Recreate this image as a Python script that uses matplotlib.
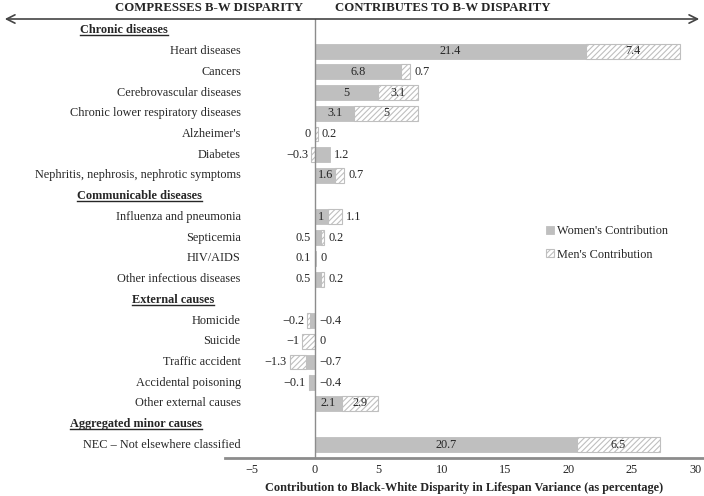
import matplotlib
matplotlib.use("Agg")
import matplotlib.pyplot as plt
from matplotlib.lines import Line2D
from matplotlib.patches import Patch, FancyArrowPatch

plt.rcParams['font.family'] = ['Liberation Serif', 'DejaVu Serif']
plt.rcParams['hatch.linewidth'] = 0.8

# --- data -------------------------------------------------------------
groups = ["Chronic diseases", "Communicable diseases",
          "External causes", "Aggregated minor causes"]
causes = [
    ["Heart diseases", "Cancers", "Cerebrovascular diseases",
     "Chronic lower respiratory diseases", "Alzheimer's", "Diabetes",
     "Nephritis, nephrosis, nephrotic symptoms"],
    ["Influenza and pneumonia", "Septicemia", "HIV/AIDS",
     "Other infectious diseases"],
    ["Homicide", "Suicide", "Traffic accident", "Accidental poisoning",
     "Other external causes"],
    ["NEC \u2013 Not elsewhere classified"],
]
women = [
    [21.4, 6.8, 5, 3.1, 0, 1.2, 1.6],
    [1, 0.5, 0.1, 0.5],
    [-0.4, 0, -0.7, -0.4, 2.1],
    [20.7],
]
men = [
    [7.4, 0.7, 3.1, 5, 0.2, -0.3, 0.7],
    [1.1, 0.2, 0, 0.2],
    [-0.2, -1, -1.3, -0.1, 2.9],
    [6.5],
]
xticks = [-5, 0, 5, 10, 15, 20, 25, 30]

# --- styling ----------------------------------------------------------
grey = '#bfbfbf'
txt = '#262626'
fs = 8.8


def fmt(v):
    return ('%g' % v).replace('-', '\u2212')


W, H = 704, 496
fig = plt.figure(figsize=(W / 100, H / 100), dpi=100)
ax = fig.add_axes([225 / W, 1 - 458 / H, 1 - 225 / W, (458 - 19) / H])

rows = []  # (kind, label, w, m)
for g, cs, ws, ms in zip(groups, causes, women, men):
    rows.append(('header', g, None, None))
    for c, w, m in zip(cs, ws, ms):
        rows.append(('cause', c, w, m))

ax.set_xlim(-7.1, 30.7)
ax.set_ylim(len(rows) - 1 + 0.63, -0.55)

header_left = {"Chronic diseases": 80, "Communicable diseases": 77,
               "External causes": 132, "Aggregated minor causes": 70}

bar_h = 0.72
header_texts = []
for i, (kind, label, w, m) in enumerate(rows):
    if kind == 'header':
        yfig = fig.transFigure.inverted().transform(
            ax.transData.transform((0, i)))[1]
        t = fig.text(header_left[label] / W, yfig, label, fontsize=fs,
                     fontweight='bold', color=txt, ha='left', va='center')
        header_texts.append(t)
        continue
    ax.text(-5.85, i, label, ha='right', va='center', fontsize=fs, color=txt)
    ax.barh(i, w, height=bar_h, color=grey, edgecolor=grey, lw=0.6)
    m_left = w if (w * m > 0) else 0
    ax.barh(i, m, left=m_left, height=bar_h, facecolor='white',
            edgecolor=grey, hatch='//////', lw=0.8)

    lo = min(0, w, m_left + m, m_left)
    hi = max(0, w, m_left + m, m_left)
    if w < 0 or m < 0:
        ax.annotate(fmt(m), (lo, i), xytext=(-2, 0), textcoords='offset points',
                    ha='right', va='center', fontsize=fs, color=txt)
        ax.annotate(fmt(w), (hi, i), xytext=(3, 0), textcoords='offset points',
                    ha='left', va='center', fontsize=fs, color=txt)
    elif w >= 1:
        ax.text(w / 2, i, fmt(w), ha='center', va='center', fontsize=fs,
                color=txt)
        if m >= 2:
            ax.text(w + m / 2, i, fmt(m), ha='center', va='center',
                    fontsize=fs, color=txt)
        else:
            ax.annotate(fmt(m), (hi, i), xytext=(3, 0),
                        textcoords='offset points', ha='left', va='center',
                        fontsize=fs, color=txt)
    else:
        ax.annotate(fmt(w), (lo, i), xytext=(-3, 0), textcoords='offset points',
                    ha='right', va='center', fontsize=fs, color=txt)
        ax.annotate(fmt(m), (hi, i), xytext=(3, 0), textcoords='offset points',
                    ha='left', va='center', fontsize=fs, color=txt)

ax.axvline(0, color='#8c8c8c', lw=1)
ax.set_xticks(xticks)
ax.set_xticklabels([fmt(v) for v in xticks])
ax.set_yticks([])
ax.tick_params(axis='x', length=0, pad=4, labelsize=fs, labelcolor=txt)
for s in ['top', 'right', 'left']:
    ax.spines[s].set_visible(False)
ax.spines['bottom'].set_color('#8c8c8c')
ax.spines['bottom'].set_linewidth(2)
ax.set_facecolor('none')
ax.set_xlabel('Contribution to Black-White Disparity in Lifespan Variance '
              '(as percentage)', fontsize=fs, fontweight='bold', color=txt,
              labelpad=5)

# legend
handles = [Patch(facecolor=grey, edgecolor=grey, lw=0.6),
           Patch(facecolor='white', edgecolor=grey, hatch='//////', lw=0.8)]
ax.legend(handles, ["Women's Contribution", "Men's Contribution"],
          loc='upper left', bbox_to_anchor=(546 / W, 1 - 225 / H),
          bbox_transform=fig.transFigure, frameon=False, fontsize=fs,
          handlelength=0.65, handleheight=0.65, handletextpad=0.25,
          labelspacing=0.95, borderpad=0, borderaxespad=0, labelcolor=txt)

# top arrow and direction labels
arrow_y = 1 - 19 / H
fig.add_artist(FancyArrowPatch(
    (2 / W, arrow_y), (702 / W, arrow_y), transform=fig.transFigure,
    arrowstyle='<->,head_length=6,head_width=3', color='#444444', lw=1.2,
    mutation_scale=1))
zero_x = fig.transFigure.inverted().transform(ax.transData.transform((0, 0)))[0]
fig.text(zero_x - 12 / W, 1 - 8 / H, 'COMPRESSES B-W DISPARITY', ha='right',
         va='center', fontsize=9.2, fontweight='bold', color=txt)
fig.text(zero_x + 20 / W, 1 - 8 / H, 'CONTRIBUTES TO B-W DISPARITY',
         ha='left', va='center', fontsize=9.2, fontweight='bold', color=txt)

# underline the group headers
fig.canvas.draw()
r = fig.canvas.get_renderer()
for t in header_texts:
    bb = t.get_window_extent(r)
    y = bb.y0 + 1
    fig.add_artist(Line2D([bb.x0 / W, bb.x1 / W], [y / H] * 2,
                          transform=fig.transFigure, color=txt, lw=1))

fig.savefig('out.png', dpi=100)
